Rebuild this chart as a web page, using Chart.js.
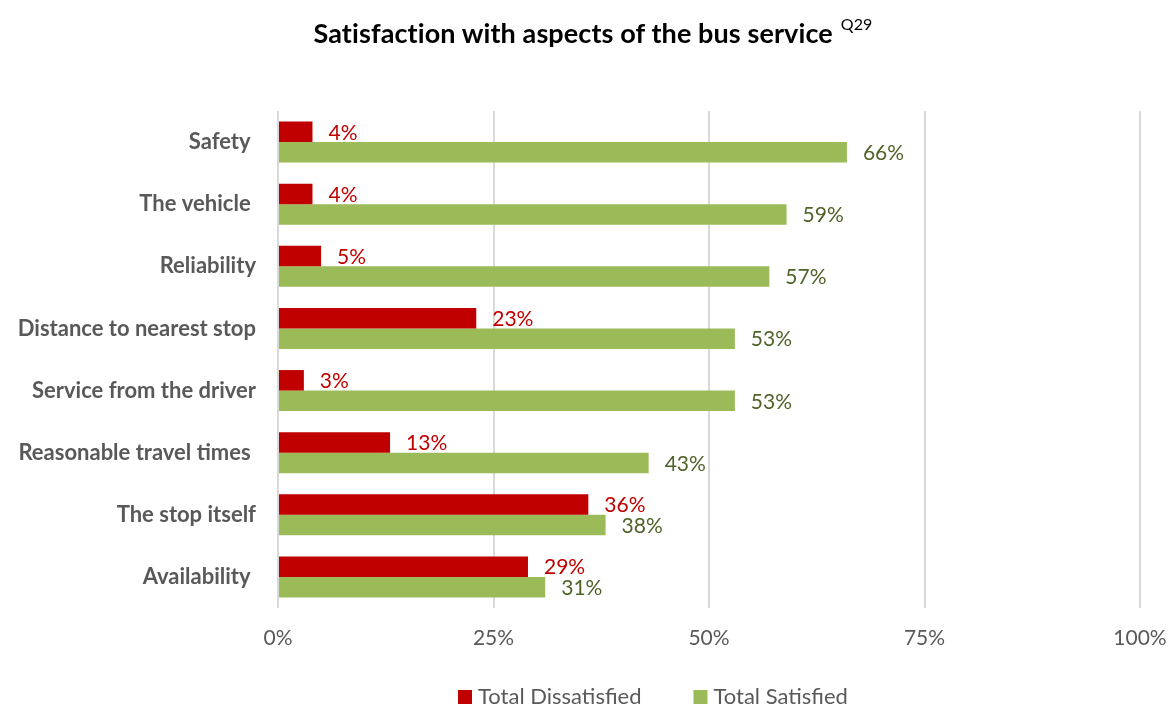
<!DOCTYPE html>
<html>
<head>
<meta charset="utf-8">
<script src="https://cdn.jsdelivr.net/npm/chart.js@4"></script>
<style>
  html, body { margin:0; padding:0; background:#fff; }
  #wrap { position:relative; width:1170px; height:706px; overflow:hidden; }
  #title { position:absolute; left:0; top:16px; width:1154px; padding-left:16px; text-align:center; z-index:1;
           font-family:"Lato", sans-serif; font-weight:bold; font-size:27px; letter-spacing:0.1px; color:#000; }
  #title sup { font-weight:normal; font-size:16px; position:relative; top:-3px; margin-left:8px; }
  canvas { position:absolute; left:0; top:0; }
</style>
</head>
<body>
<div id="wrap">
  <div id="title">Satisfaction with aspects of the bus service<sup>Q29</sup></div>
  <canvas id="chart" width="1170" height="706"></canvas>
</div>
<script>
const CATEGORIES = ["Safety ", "The vehicle ", "Reliability", "Distance to nearest stop", "Service from the driver", "Reasonable travel times ", "The stop itself", "Availability "];
const DISSATISFIED = [4, 4, 5, 23, 3, 13, 36, 29];
const SATISFIED = [66, 59, 57, 53, 53, 43, 38, 31];
const X_TICKS = [0, 25, 50, 75, 100];

const FONT = "Lato";
const GREY = "#595959";

// value labels drawn just past the end of each bar
const barLabels = {
  id: "barLabels",
  afterDatasetsDraw(chart) {
    const ctx = chart.ctx;
    ctx.save();
    ctx.font = `21px ${FONT}`;
    ctx.textBaseline = "middle";
    ctx.textAlign = "left";
    chart.data.datasets.forEach((ds, i) => {
      const meta = chart.getDatasetMeta(i);
      meta.data.forEach((bar, j) => {
        ctx.fillStyle = ds.labelColor;
        ctx.fillText(ds.data[j] + "%", bar.x + 16, bar.y + 1);
      });
    });
    ctx.restore();
  }
};

// legend row under the axis, sitting a bit right of centre
const legendRow = {
  id: "legendRow",
  afterDraw(chart) {
    const ctx = chart.ctx;
    const y = 697;
    let x = 458;
    ctx.save();
    ctx.font = `22px ${FONT}`;
    ctx.textBaseline = "middle";
    ctx.textAlign = "left";
    chart.data.datasets.forEach(ds => {
      ctx.fillStyle = ds.backgroundColor;
      ctx.fillRect(x, y - 7, 14, 14);
      ctx.fillStyle = GREY;
      ctx.fillText(ds.label, x + 20, y);
      x += 20 + ctx.measureText(ds.label).width + 52;
    });
    ctx.restore();
  }
};

new Chart(document.getElementById("chart"), {
  type: "bar",
  data: {
    labels: CATEGORIES,
    datasets: [
      { label: "Total Dissatisfied", data: DISSATISFIED, backgroundColor: "#C00000", labelColor: "#C00000" },
      { label: "Total Satisfied", data: SATISFIED, backgroundColor: "#9BBB59", labelColor: "#4F6228" }
    ]
  },
  options: {
    indexAxis: "y",
    responsive: false,
    animation: false,
    categoryPercentage: 0.66,
    barPercentage: 1,
    layout: { padding: { top: 111, right: 0, left: 0, bottom: 36 } },
    plugins: {
      legend: { display: false },
      tooltip: { enabled: false }
    },
    scales: {
      x: {
        min: 0, max: 100,
        afterBuildTicks: s => { s.ticks = X_TICKS.map(v => ({ value: v })); },
        afterFit: s => { s.height = 62; s.paddingRight = 30; },
        ticks: { color: GREY, font: { family: FONT, size: 21 }, padding: 18, callback: v => v + "%" },
        grid: { color: "#D9D9D9", lineWidth: 2, drawTicks: false },
        border: { display: false }
      },
      y: {
        afterFit: s => { s.width = 278; },
        ticks: { color: GREY, font: { family: FONT, size: 22, weight: "bold" }, padding: 22 },
        grid: { display: false, drawTicks: false },
        border: { display: false }
      }
    }
  },
  plugins: [barLabels, legendRow]
});
</script>
</body>
</html>
